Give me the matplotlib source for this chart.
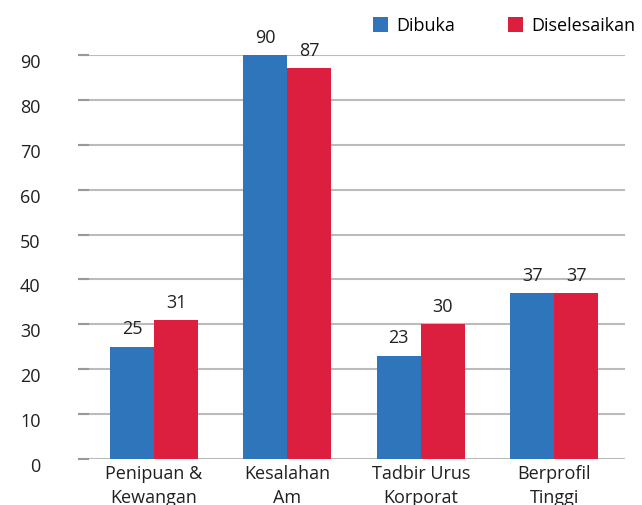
import matplotlib.pyplot as plt
import matplotlib.transforms as mtransforms
import numpy as np

plt.rcParams['font.family'] = ['Open Sans', 'DejaVu Sans']

kategori = ["Penipuan &\nKewangan", "Kesalahan\nAm", "Tadbir Urus\nKorporat", "Berprofil\nTinggi"]
dibuka = [25, 90, 23, 37]
diselesaikan = [31, 87, 30, 37]
ytik = list(range(0, 100, 10))

biru = "#2E75BB"
merah = "#DC1F3E"
teks = "#231F20"

fig = plt.figure(figsize=(6.42, 5.05), dpi=100)
ax = fig.add_axes([0.1215, 0.0911, 0.852, 0.80])

x = np.arange(len(kategori))
w = 0.33
b1 = ax.bar(x - w/2, dibuka, w, color=biru, label="Dibuka", zorder=3)
b2 = ax.bar(x + w/2, diselesaikan, w, color=merah, label="Diselesaikan", zorder=3)

for bars in (b1, b2):
    for b in bars:
        ax.annotate(str(int(b.get_height())), (b.get_x() + b.get_width()/2, b.get_height()),
                    xytext=(0, 6), textcoords="offset points", ha="center", va="bottom",
                    fontsize=13, color=teks, annotation_clip=False)

ax.set_xlim(-0.57, 3.53)
ax.set_ylim(0, 90)
ax.set_yticks(ytik)
ax.set_yticklabels([str(v) for v in ytik])
ax.grid(axis="y", color="#BBBBBB", linewidth=1.5, zorder=0)
for s in ax.spines.values():
    s.set_visible(False)
ax.set_xticks(x)
ax.set_xticklabels(kategori, fontsize=13, color=teks, linespacing=1.45)
ax.tick_params(axis="x", length=0, pad=4)
ax.tick_params(axis="y", length=8, width=1.5, color="#999999", direction="in", pad=27,
               labelsize=13, labelcolor=teks)
geser = mtransforms.ScaledTranslation(0, -6/100, fig.dpi_scale_trans)
for lbl in ax.get_yticklabels():
    lbl.set_transform(lbl.get_transform() + geser)

fig.legend(loc="upper right", bbox_to_anchor=(1.001, 0.981), ncol=2, frameon=False,
           fontsize=13, handlelength=0.85, handleheight=0.85, handletextpad=0.45,
           columnspacing=2.9, borderaxespad=0)

fig.savefig("out.png", dpi=100)
